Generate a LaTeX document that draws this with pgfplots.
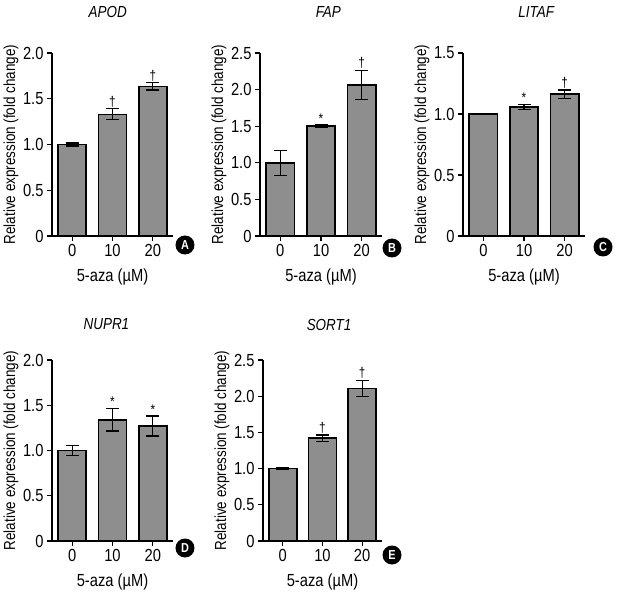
\documentclass[border=0pt]{standalone}
\usepackage{pgfplots}
\pgfplotsset{compat=1.18}
\usepackage{fontspec}
\setmainfont[FakeStretch=0.84]{Liberation Sans}
\definecolor{barfill}{RGB}{142,142,142}
\newcommand{\bigf}{\fontsize{16}{19}\selectfont}
\pgfplotsset{
  panel/.style={
    scale only axis, width=121pt, height=183pt,
    anchor=south west, clip=false,
    axis x line*=bottom, axis y line*=left,
    axis line style={line width=1.3pt},
    xmin=-0.5, xmax=2.5, ymin=0,
    xtick={0,1,2}, xticklabels={0,10,20},
    tick align=outside, major tick length=5pt,
    tick style={line width=1.2pt, black},
    tick label style={font=\fontsize{17.5}{20}\selectfont},
    ylabel={Relative expression (fold change)},
    xlabel={5-aza (µM)},
    ylabel style={at={(rel axis cs:0,0.5)}, anchor=center, yshift=41pt, font=\bigf},
    xlabel style={at={(rel axis cs:0.5,0)}, anchor=center, yshift=-41pt, font=\fontsize{17.5}{20}\selectfont},
    title style={anchor=center, yshift=35pt, font=\bigf\itshape},
    /pgf/number format/assume math mode=true,
  },
  bars/.style={ybar, bar width=0.7, fill=barfill, draw=black, line width=1.6pt,
    error bars/y dir=both, error bars/y explicit,
    error bars/error bar style={line width=1.3pt, black},
    error bars/error mark options={rotate=90, mark size=6.5pt, line width=1.3pt, black}},
  sig/.style={draw=none, mark=none, nodes near coords, point meta=explicit symbolic,
    nodes near coords style={anchor=south, inner sep=1.5pt, font=\fontsize{14}{16}\selectfont}},
}
\tikzset{letter/.style={circle, fill=black, text=white, inner sep=0pt, minimum size=19pt,
    font=\bfseries\fontsize{13}{13}\selectfont}}
\begin{document}
\begin{tikzpicture}
\useasboundingbox (0,0) rectangle (621pt,595pt);

% A
\begin{axis}[panel, at={(52pt,359pt)}, title={APOD}, title style={at={(rel axis cs:0.46,1)}},
  ymax=2, ytick={0,0.5,1,1.5,2}, yticklabels={0,0.5,1.0,1.5,2.0}]
\addplot[bars] coordinates {(0,1.00) +- (0,0.015) (1,1.33) +- (0,0.06) (2,1.635) +- (0,0.04)};
\addplot[sig] coordinates {(1,1.39)[\textdagger] (2,1.675)[\textdagger]};
\node[letter, xshift=12pt, yshift=-9pt] at (rel axis cs:1,0) {A};
\end{axis}

% B
\begin{axis}[panel, at={(260pt,359pt)}, width=122pt, title={FAP}, title style={at={(rel axis cs:0.56,1)}},
  ymax=2.5, ytick={0,0.5,1,1.5,2,2.5}, yticklabels={0,0.5,1.0,1.5,2.0,2.5}]
\addplot[bars] coordinates {(0,1.00) +- (0,0.17) (1,1.50) +- (0,0.015) (2,2.06) +- (0,0.20)};
\addplot[sig] coordinates {(1,1.515)[*] (2,2.26)[\textdagger]};
\node[letter, xshift=10pt, yshift=-12pt] at (rel axis cs:1,0) {B};
\end{axis}

% C
\begin{axis}[panel, at={(463pt,359pt)}, width=122pt, title={LITAF}, title style={at={(rel axis cs:0.6,1)}},
  ymax=1.5, ytick={0,0.5,1,1.5}, yticklabels={0,0.5,1.0,1.5}]
\addplot[bars] coordinates {(0,1.00) +- (0,0.004) (1,1.057) +- (0,0.02) (2,1.163) +- (0,0.034)};
\addplot[sig] coordinates {(1,1.078)[*] (2,1.198)[\textdagger]};
\node[letter, xshift=18pt, yshift=-11pt] at (rel axis cs:1,0) {C};
\end{axis}

% D
\begin{axis}[panel, at={(52pt,54pt)}, height=181pt, title={NUPR1},
  title style={at={(rel axis cs:0.45,1)}, yshift=-5pt},
  ymax=2, ytick={0,0.5,1,1.5,2}, yticklabels={0,0.5,1.0,1.5,2.0}]
\addplot[bars] coordinates {(0,1.00) +- (0,0.057) (1,1.34) +- (0,0.125) (2,1.27) +- (0,0.11)};
\addplot[sig] coordinates {(1,1.465)[*] (2,1.38)[*]};
\node[letter, xshift=12pt, yshift=-7pt] at (rel axis cs:1,0) {D};
\end{axis}

% E
\begin{axis}[panel, at={(263pt,54pt)}, width=119pt, height=181pt, title={SORT1},
  title style={at={(rel axis cs:0.555,1)}, yshift=-6pt},
  ymax=2.5, ytick={0,0.5,1,1.5,2,2.5}, yticklabels={0,0.5,1.0,1.5,2.0,2.5}]
\addplot[bars] coordinates {(0,1.00) +- (0,0.01) (1,1.42) +- (0,0.045) (2,2.105) +- (0,0.11)};
\addplot[sig] coordinates {(1,1.465)[\textdagger] (2,2.215)[\textdagger]};
\node[letter, xshift=10pt, yshift=-14pt] at (rel axis cs:1,0) {E};
\end{axis}
\end{tikzpicture}
\end{document}
